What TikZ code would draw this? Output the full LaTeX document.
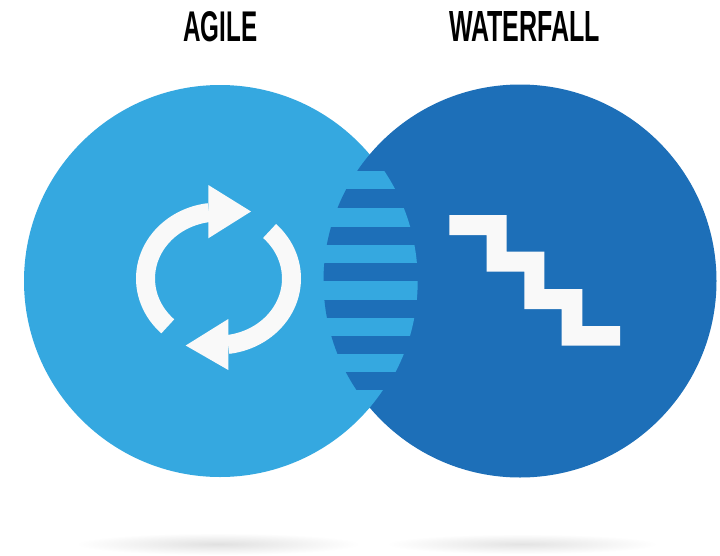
\documentclass[tikz,border=0pt]{standalone}
\usepackage{graphicx}
\usepackage{fontspec}
\setmainfont{Liberation Sans}
\definecolor{lightblue}{HTML}{35A8E0}
\definecolor{darkblue}{HTML}{1D6FB8}
\definecolor{iconwhite}{HTML}{F9F9F9}
\begin{document}
\begin{tikzpicture}[x=1pt,y=-1pt,
  title/.style={inner sep=0pt,text=black},
  ring/.style={draw=iconwhite,line width=19pt,line cap=butt,smooth}]
\useasboundingbox (0,0) rectangle (720,555);
\fill[white] (0,0) rectangle (720,555);
% shadows
\shade[inner color=black!12,outer color=white] (218,544) ellipse [x radius=142,y radius=11];
\shade[inner color=black!11,outer color=white] (522,544) ellipse [x radius=136,y radius=10];
% circles
\fill[lightblue] (220,281) circle (196);
\fill[darkblue] (520,281) circle (196.5);
% lens stripes
\begin{scope}
  \clip (220,281) circle (197.7);
  \clip (520,281) circle (198);
  \foreach \a/\b in {170.7/189,207.5/226.5,245/263,281/299.5,318/335.5,353.5/372}
    \fill[lightblue] (300,\a) rectangle (440,\b);
\end{scope}
\begin{scope}
  \clip (220,281) circle (196);
  \clip (520,281) circle (198);
  \fill[lightblue] (300,390) rectangle (440,480);
\end{scope}
% cycle icon
\draw[ring] plot[domain=134:262.5,samples=40] ({218.5+73*cos(\x)},{278.5+66.5*sin(\x)});
\fill[iconwhite] (208.3,185) -- (251,211.5) -- (208.3,238.3) -- cycle;
\draw[ring] plot[domain=-45.6:82.5,samples=40] ({218.5+73*cos(\x)},{278.5+66.5*sin(\x)});
\fill[iconwhite] (228.3,319) -- (185.7,345.5) -- (228.3,370) -- cycle;
% stairs
\fill[iconwhite] (449.3,215) -- (506.7,215) -- (506.7,251.7) -- (544.3,251.7) -- (544.3,289) -- (582.3,289) -- (582.3,326) -- (620,326) -- (620,345.7) -- (561.7,345.7) -- (561.7,309) -- (524.3,309) -- (524.3,271.7) -- (486.7,271.7) -- (486.7,235) -- (449.3,235) -- cycle;
% titles
\node[title] (agile) at (220.5,26.5) {\resizebox{74pt}{30pt}{\bfseries AGILE}};
\node[title] (waterfall) at (524.5,26.5) {\resizebox{151pt}{30pt}{\bfseries WATERFALL}};
\end{tikzpicture}
\end{document}
